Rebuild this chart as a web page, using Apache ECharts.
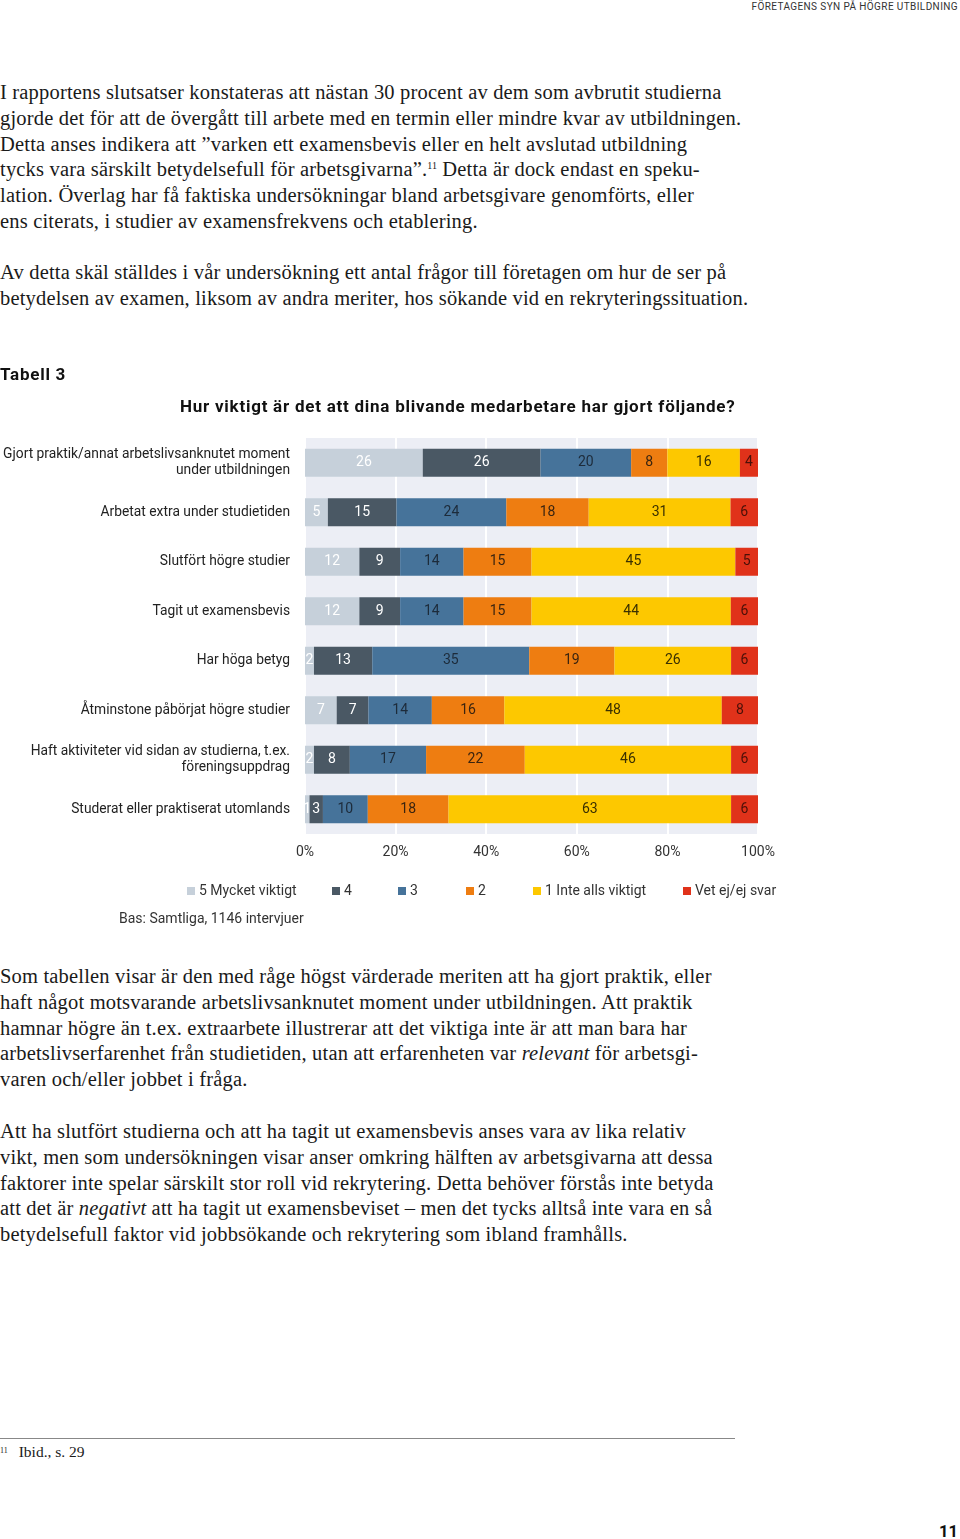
<!DOCTYPE html>
<html>
<head>
<meta charset="utf-8">
<script src="https://cdn.jsdelivr.net/npm/echarts@6/dist/echarts.min.js"></script>
<style>
  html, body { margin: 0; padding: 0; background: #fff; }
  body { width: 960px; height: 1539px; position: relative; overflow: hidden; }
  .hdr { position: absolute; top: 0; right: 2px; font-family: Roboto, sans-serif; font-size: 10px; letter-spacing: 0.4px; color: #333; line-height: 13px; }
  .p { position: absolute; left: 0; font-family: "Liberation Serif", serif; font-size: 20.5px; letter-spacing: 0.18px; line-height: 25.8px; color: #1a1a1a; white-space: nowrap; }
  .p sup { font-size: 10px; vertical-align: 7px; line-height: 0; letter-spacing: 0; }
  .fnline { position: absolute; left: 0; top: 1438px; width: 735px; height: 1px; background: #888; }
  .fn { position: absolute; left: 0; top: 1443px; font-family: "Liberation Serif", serif; font-size: 15.5px; color: #1a1a1a; white-space: nowrap; }
  .fn sup { font-size: 8px; vertical-align: 4px; margin-right: 11px; }
  .pg { position: absolute; right: 2px; top: 1522px; font-family: Roboto, sans-serif; font-weight: bold; font-size: 16.5px; color: #111; }
  .tt { position: absolute; font-family: Roboto, sans-serif; font-weight: bold; font-size: 17px; letter-spacing: 0.75px; color: #111; white-space: nowrap; line-height: 20px; }
  #chart { position: absolute; left: 0; top: 360px; width: 960px; height: 580px; }
</style>
</head>
<body>
<div class="hdr">FÖRETAGENS SYN PÅ HÖGRE UTBILDNING</div>

<div class="p" style="top:80px">
I rapportens slutsatser konstateras att nästan 30 procent av dem som avbrutit studierna<br>
gjorde det för att de övergått till arbete med en termin eller mindre kvar av utbildningen.<br>
Detta anses indikera att ”varken ett examensbevis eller en helt avslutad utbildning<br>
tycks vara särskilt betydelsefull för arbetsgivarna”.<sup>11</sup> Detta är dock endast en speku-<br>
lation. Överlag har få faktiska undersökningar bland arbetsgivare genomförts, eller<br>
ens citerats, i studier av examensfrekvens och etablering.
</div>

<div class="p" style="top:260px">
Av detta skäl ställdes i vår undersökning ett antal frågor till företagen om hur de ser på<br>
betydelsen av examen, liksom av andra meriter, hos sökande vid en rekryteringssituation.
</div>

<div id="chart"></div>
<div class="tt" style="left:0; top:364px;">Tabell 3</div>
<div class="tt" style="left:180px; top:396px;">Hur viktigt är det att dina blivande medarbetare har gjort följande?</div>

<div class="p" style="top:964px">
Som tabellen visar är den med råge högst värderade meriten att ha gjort praktik, eller<br>
haft något motsvarande arbetslivsanknutet moment under utbildningen. Att praktik<br>
hamnar högre än t.ex. extraarbete illustrerar att det viktiga inte är att man bara har<br>
arbetslivserfarenhet från studietiden, utan att erfarenheten var <i>relevant</i> för arbetsgi-<br>
varen och/eller jobbet i fråga.
</div>

<div class="p" style="top:1119px">
Att ha slutfört studierna och att ha tagit ut examensbevis anses vara av lika relativ<br>
vikt, men som undersökningen visar anser omkring hälften av arbetsgivarna att dessa<br>
faktorer inte spelar särskilt stor roll vid rekrytering. Detta behöver förstås inte betyda<br>
att det är <i>negativt</i> att ha tagit ut examensbeviset – men det tycks alltså inte vara en så<br>
betydelsefull faktor vid jobbsökande och rekrytering som ibland framhålls.
</div>

<div class="fnline"></div>
<div class="fn"><sup>11</sup>Ibid., s. 29</div>
<div class="pg">11</div>

<script>
// ---- data ----
const categories = [
  "Gjort praktik/annat arbetslivsanknutet moment\nunder utbildningen",
  "Arbetat extra under studietiden",
  "Slutfört högre studier",
  "Tagit ut examensbevis",
  "Har höga betyg",
  "Åtminstone påbörjat högre studier",
  "Haft aktiviteter vid sidan av studierna, t.ex.\nföreningsuppdrag",
  "Studerat eller praktiserat utomlands"
];
const seriesNames = ["5 Mycket viktigt", "4", "3", "2", "1 Inte alls viktigt", "Vet ej/ej svar"];
const s5 = [26, 5, 12, 12, 2, 7, 2, 1];
const s4 = [26, 15, 9, 9, 13, 7, 8, 3];
const s3 = [20, 24, 14, 14, 35, 14, 17, 10];
const s2 = [8, 18, 15, 15, 19, 16, 22, 18];
const s1 = [16, 31, 45, 44, 26, 48, 46, 63];
const sVet = [4, 6, 5, 6, 6, 8, 6, 6];
const xTicks = [0, 20, 40, 60, 80, 100];
const baseText = "Bas: Samtliga, 1146 intervjuer";

// ---- styles ----
const colors = ["#c6d0da", "#4a5864", "#46739a", "#ee7d11", "#fdc800", "#e0321a"];
const labelColors = ["#ffffff", "#ffffff", "#1d2b3a", "#3a2410", "#3a3000", "#4a1008"];
const legendLeft = [187, 332, 398, 466, 533, 683];
const FONT = "Roboto, sans-serif";

const allSeries = [s5, s4, s3, s2, s1, sVet];
const rowSums = categories.map((_, i) => allSeries.reduce((a, s) => a + s[i], 0));

const chart = echarts.init(document.getElementById('chart'), null, { renderer: 'canvas' });

const series = allSeries.map((arr, k) => ({
  name: seriesNames[k],
  type: 'bar',
  stack: 'total',
  barWidth: 28,
  itemStyle: { color: colors[k] },
  label: {
    show: true,
    position: 'inside',
    color: labelColors[k],
    fontFamily: FONT,
    fontSize: 14,
    formatter: p => String(arr[p.dataIndex])
  },
  emphasis: { disabled: true },
  data: arr.map((v, i) => v / rowSums[i] * 100)
}));

const option = {
  animation: false,
  textStyle: { fontFamily: FONT },
  legend: seriesNames.map((n, k) => ({
    data: [n],
    left: legendLeft[k],
    top: 524,
    padding: 0,
    itemWidth: 8,
    itemHeight: 8,
    itemGap: 0,
    icon: 'rect',
    selectedMode: false,
    textStyle: { fontFamily: FONT, fontSize: 14, color: '#333', padding: [0, 0, 0, -1] }
  })),
  grid: {
    left: 305, width: 453, top: 78, height: 396,
    show: true, backgroundColor: '#eceef5', borderWidth: 0,
    outerBoundsMode: 'none',
    containLabel: false
  },
  xAxis: {
    type: 'value', min: 0, max: 100, interval: 20,
    axisLine: { show: false }, axisTick: { show: false },
    splitLine: { show: true, lineStyle: { color: '#ffffff', width: 2 } },
    axisLabel: { formatter: v => xTicks.includes(v) ? v + '%' : '', color: '#333', fontSize: 14, fontFamily: FONT, margin: 11 }
  },
  yAxis: {
    type: 'category', data: categories, inverse: true,
    axisLine: { show: false }, axisTick: { show: false },
    axisLabel: { color: '#222', fontSize: 13.8, fontFamily: FONT, margin: 15, lineHeight: 16, align: 'right' }
  },
  graphic: [
    { type: 'text', left: 119, top: 552, style: { text: baseText, fontFamily: FONT, fontSize: 14, fill: '#333' } }
  ],
  series: series
};
chart.setOption(option);
</script>
</body>
</html>
